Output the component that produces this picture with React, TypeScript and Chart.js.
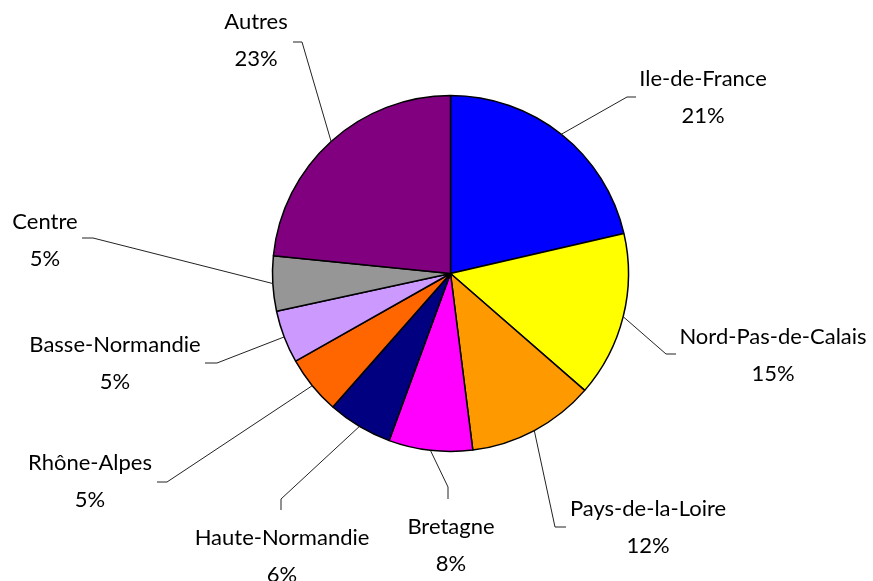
import React, { useEffect, useRef } from "react";
import { Chart, registerables } from "chart.js";

Chart.register(...registerables);

const regions = [
  "Ile-de-France",
  "Nord-Pas-de-Calais",
  "Pays-de-la-Loire",
  "Bretagne",
  "Haute-Normandie",
  "Rhône-Alpes",
  "Basse-Normandie",
  "Centre",
  "Autres",
];
const shares = [21.4, 15.0, 11.6, 7.6, 5.9, 5.3, 4.8, 5.0, 23.4];
const sliceColors = [
  "#0000FF",
  "#FFFF00",
  "#FF9900",
  "#FF00FF",
  "#000080",
  "#FF6600",
  "#CC99FF",
  "#969696",
  "#800080",
];

// label layout, offsets from pie centre: [labelX, labelY, elbowX, elbowY, endX, endY]
const labelLayout = [
  [252.5, -194.5, 176.5, -176.5, 185.5, -176.5],
  [322.5, 63.5, 215.5, 80.5, 225.5, 80.5],
  [197.5, 235.5, 104.5, 253.5, 115.5, 253.5],
  [0.5, 253.5, -2.5, 213.5, -2.5, 225.5],
  [-168.5, 264.5, -169.5, 225.5, -169.5, 236.5],
  [-360.5, 189.5, -283.5, 208.5, -293.5, 208.5],
  [-335.5, 71.5, -233.5, 89.5, -245.5, 89.5],
  [-405.5, -51.5, -357.5, -35.5, -368.5, -35.5],
  [-194.5, -251.5, -148.5, -231.5, -157.5, -231.5],
];

const FONT = '22px "Lato", "Open Sans", sans-serif';

const labelPlugin = {
  id: "pieLabels",
  afterDraw(chart: any) {
    const ctx = chart.ctx;
    const meta = chart.getDatasetMeta(0);
    const data = chart.data.datasets[0].data as number[];
    const total = data.reduce((a, b) => a + b, 0);
    ctx.save();
    meta.data.forEach((arc: any, i: number) => {
      const { x, y, startAngle, endAngle, outerRadius } = arc.getProps(
        ["x", "y", "startAngle", "endAngle", "outerRadius"],
        true
      );
      const mid = (startAngle + endAngle) / 2;
      const sx = x + Math.cos(mid) * outerRadius;
      const sy = y + Math.sin(mid) * outerRadius;
      const [lx, ly, ex, ey, fx, fy] = labelLayout[i];
      ctx.beginPath();
      ctx.strokeStyle = "#222";
      ctx.lineWidth = 1;
      ctx.moveTo(sx, sy);
      ctx.lineTo(x + ex, y + ey);
      ctx.lineTo(x + fx, y + fy);
      ctx.stroke();
      ctx.fillStyle = "#000";
      ctx.font = FONT;
      ctx.textAlign = "center";
      ctx.textBaseline = "middle";
      ctx.fillText(chart.data.labels[i], x + lx, y + ly);
      ctx.fillText(Math.round((data[i] / total) * 100) + "%", x + lx, y + ly + 37);
    });
    ctx.restore();
  },
};

export default function App() {
  const ref = useRef<HTMLCanvasElement | null>(null);
  useEffect(() => {
    document.body.style.margin = "0";
    const chart = new Chart(ref.current!, {
      type: "pie",
      data: {
        labels: regions,
        datasets: [
          {
            data: shares,
            backgroundColor: sliceColors,
            borderColor: "#000",
            borderWidth: 1.5,
          },
        ],
      },
      options: {
        animation: false,
        responsive: false,
        radius: 178,
        layout: { padding: { left: 28, right: 0, top: 0, bottom: 34 } },
        plugins: {
          legend: { display: false },
          tooltip: { enabled: false },
        },
      } as any,
      plugins: [labelPlugin],
    });
    return () => chart.destroy();
  }, []);
  return (
    <div style={{ width: 873, height: 581, background: "#fff" }}>
      <canvas ref={ref} width={873} height={581} style={{ display: "block" }} />
    </div>
  );
}
